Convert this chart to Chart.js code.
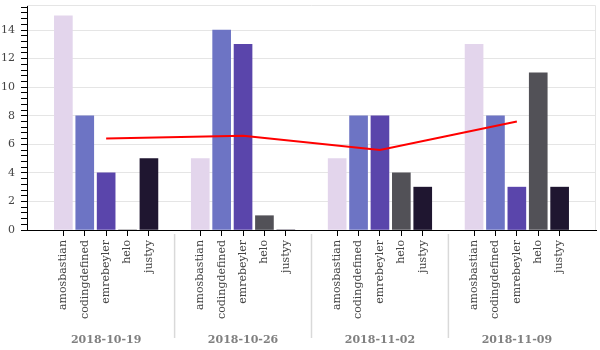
<!DOCTYPE html>
<html>
<head>
<meta charset="utf-8">
<script src="https://cdn.jsdelivr.net/npm/chart.js@4.4.0/dist/chart.umd.min.js"></script>
<style>
  html, body { margin: 0; padding: 0; background: #fff; }
  #wrap { width: 600px; height: 350px; }
</style>
</head>
<body>
<div id="wrap"><canvas id="chart"></canvas></div>
<script>
// данные
const dates = ["2018-10-19", "2018-10-26", "2018-11-02", "2018-11-09"];
const users = ["amosbastian", "codingdefined", "emrebeyler", "helo", "justyy"];
const amosbastian = [15, 5, 5, 13];
const codingdefined = [8, 14, 8, 8];
const emrebeyler = [4, 13, 8, 3];
const helo = [0, 1, 4, 11];
const justyy = [5, 0, 3, 3];
const average = [6.4, 6.6, 5.6, 7.6];
const yTicks = [0, 2, 4, 6, 8, 10, 12, 14];

const series = [amosbastian, codingdefined, emrebeyler, helo, justyy];
const colors = ["#e3d5ec", "#6d74c4", "#5a45ab", "#525157", "#1f1630"];

// позиция фактора: группа * (5 + отступ) + индекс
const GROUP = users.length + 1.4;
const pos = (g, i) => g * GROUP + i;

const catTicks = [];
dates.forEach((d, g) => users.forEach((u, i) => catTicks.push(pos(g, i))));
const groupTicks = dates.map((d, g) => pos(g, 2));
const separators = dates.slice(1).map((d, g) => pos(g, users.length - 1) + (GROUP - users.length + 1) / 2);

const font = { family: "'DejaVu Serif', serif", size: 11 };

const datasets = users.map((u, i) => ({
  type: "bar",
  label: u,
  data: series[i].map((v, g) => ({ x: pos(g, i), y: v })),
  backgroundColor: colors[i],
  barThickness: 18,
  grouped: false,
  order: 1
}));

datasets.push({
  type: "line",
  label: "average",
  data: average.map((v, g) => ({ x: pos(g, 2), y: v })),
  borderColor: "red",
  borderWidth: 2,
  pointRadius: 0,
  tension: 0,
  order: 0
});

// разделители групп и рамка
const extras = {
  id: "extras",
  afterDraw(chart) {
    const ctx = chart.ctx;
    const a = chart.chartArea;
    const x = chart.scales.x;
    ctx.save();
    ctx.strokeStyle = "#e5e5e5";
    ctx.lineWidth = 1;
    ctx.beginPath();
    ctx.moveTo(a.left, a.top + 0.5);
    ctx.lineTo(a.right - 0.5, a.top + 0.5);
    ctx.lineTo(a.right - 0.5, a.bottom);
    ctx.stroke();

    ctx.strokeStyle = "#d9d9d9";
    ctx.lineWidth = 1.5;
    separators.forEach(v => {
      const px = x.getPixelForValue(v);
      ctx.beginPath();
      ctx.moveTo(px, a.bottom + 4);
      ctx.lineTo(px, a.bottom + 108);
      ctx.stroke();
    });
    ctx.restore();
  }
};

const isMajor = v => Math.abs(v / 2 - Math.round(v / 2)) < 1e-6;
const noPad = s => { s.paddingLeft = 0; s.paddingRight = 0; s.paddingTop = 0; s.paddingBottom = 0; };

new Chart(document.getElementById("chart"), {
  data: { datasets },
  options: {
    responsive: true,
    maintainAspectRatio: false,
    animation: false,
    layout: { padding: { top: 5, right: 4, left: 0, bottom: 0 } },
    plugins: { legend: { display: false }, tooltip: { enabled: false } },
    scales: {
      x: {
        type: "linear",
        position: "bottom",
        offset: false,
        min: -1.7,
        max: 24.9,
        afterBuildTicks: s => { s.ticks = catTicks.map(v => ({ value: v })); },
        afterFit: s => { s.height = 95; noPad(s); },
        ticks: {
          autoSkip: false,
          minRotation: 90,
          maxRotation: 90,
          padding: 4,
          color: "#444",
          font,
          callback: (v, i) => users[i % users.length]
        },
        grid: { drawOnChartArea: false, offset: false, tickLength: 6, color: "#000", tickColor: "#000" },
        border: { color: "#000", width: 1 }
      },
      x2: {
        type: "linear",
        position: "bottom",
        offset: false,
        min: -1.7,
        max: 24.9,
        afterBuildTicks: s => { s.ticks = groupTicks.map(v => ({ value: v })); },
        afterFit: s => { s.height = 25; noPad(s); },
        ticks: {
          autoSkip: false,
          maxRotation: 0,
          padding: 9,
          color: "grey",
          font: { family: font.family, size: 11, weight: "bold" },
          callback: (v, i) => dates[i]
        },
        grid: { display: false, drawTicks: false },
        border: { display: false }
      },
      y: {
        min: 0,
        max: 15.75,
        afterBuildTicks: s => {
          const t = [];
          for (let k = 0; k * 0.4 <= 15.75; k++) t.push({ value: Math.round(k * 4) / 10 });
          s.ticks = t;
        },
        afterFit: s => { s.width = 27; noPad(s); },
        ticks: {
          autoSkip: false,
          padding: 6,
          color: "#444",
          font,
          callback: v => (isMajor(v) && yTicks.includes(Math.round(v))) ? String(Math.round(v)) : ""
        },
        grid: {
          tickLength: 6,
          color: c => (c.tick && isMajor(c.tick.value) && c.tick.value > 0) ? "#e5e5e5" : "rgba(0,0,0,0)",
          tickColor: "#000"
        },
        border: { color: "#000", width: 1 }
      }
    }
  },
  plugins: [extras]
});
</script>
</body>
</html>
